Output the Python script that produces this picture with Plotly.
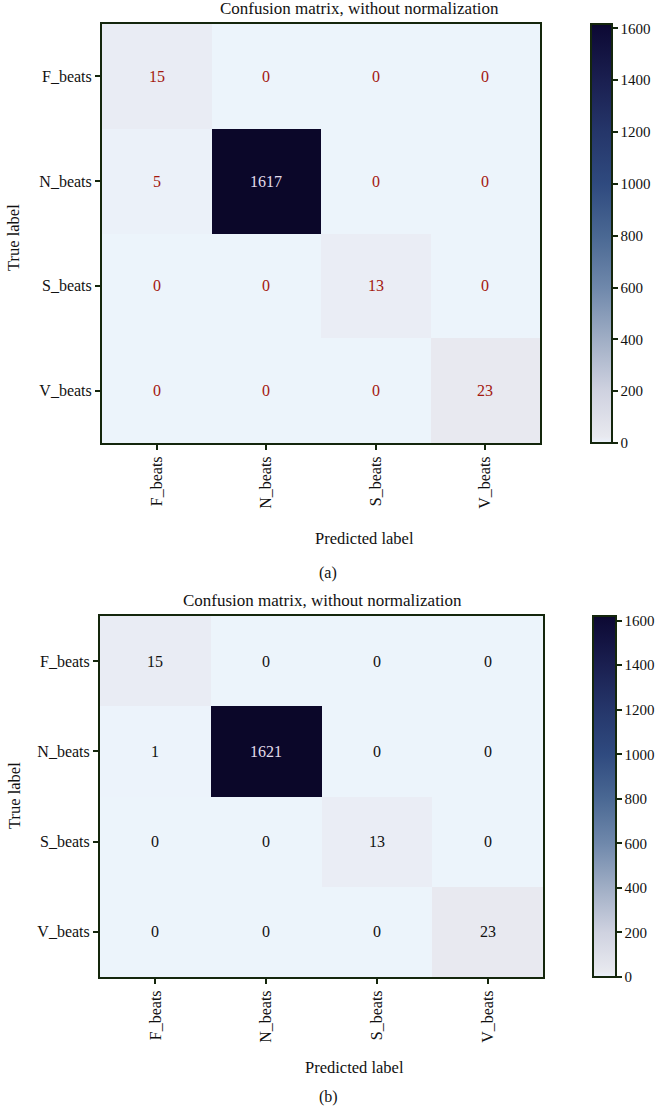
import plotly.graph_objects as go

# ---- data ----
classes = ["F_beats", "N_beats", "S_beats", "V_beats"]
cm_a = [[15, 0, 0, 0],
        [5, 1617, 0, 0],
        [0, 0, 13, 0],
        [0, 0, 0, 23]]
cm_b = [[15, 0, 0, 0],
        [1, 1621, 0, 0],
        [0, 0, 13, 0],
        [0, 0, 0, 23]]
cbar_ticks = [0, 200, 400, 600, 800, 1000, 1200, 1400, 1600]
title_text = "Confusion matrix, without normalization"
panel_labels = ["(a)", "(b)"]

W, H = 661, 1107
FONT = "Liberation Serif, Times New Roman, serif"
LINE = "#14260c"

colorscale = [[0.0, "#ECF4FB"], [0.006, "#EAEEF7"], [0.015, "#E8E9EF"],
              [0.124, "#CFD2E0"], [0.247, "#A0AEC5"], [0.371, "#6F88AB"],
              [0.495, "#4A6893"], [0.618, "#2F4A7F"], [0.742, "#25366A"],
              [0.866, "#1A1F50"], [0.99, "#0D0A35"], [1.0, "#0B0729"]]

def px_x(x):
    return x / W

def px_y(y):
    return 1 - y / H

panels = [
    dict(z=cm_a, frame=(102, 540, 24, 443), cb=(591, 21), txt="#A3180F",
         title=(359, 8), xlab=(365, 539), tlab=(14, 238), plab=(328, 573)),
    dict(z=cm_b, frame=(100, 543, 616, 977), cb=(593, 23), txt="#111111",
         title=(322, 600), xlab=(354, 1067), tlab=(14, 796), plab=(328, 1097)),
]

fig = go.Figure()
annotations = []
for i, p in enumerate(panels):
    k = "" if i == 0 else str(i + 1)
    x0, x1, y0, y1 = p["frame"]
    zmax = max(max(r) for r in p["z"])
    fig.add_trace(go.Heatmap(
        z=p["z"], x=classes, y=classes, xaxis="x" + k, yaxis="y" + k,
        colorscale=colorscale, zmin=0, zmax=zmax, hoverinfo="z",
        colorbar=dict(
            x=px_x(p["cb"][0]), xanchor="left", xpad=0, ypad=0,
            y=px_y(y0), yanchor="top", len=y1 - y0, lenmode="pixels",
            thickness=p["cb"][1], thicknessmode="pixels",
            outlinewidth=2, outlinecolor=LINE,
            tickvals=cbar_ticks, ticks="outside", ticklen=5, tickwidth=2,
            tickcolor=LINE, tickfont=dict(family=FONT, size=15, color="#111"),
        ),
    ))
    axis_common = dict(showgrid=False, zeroline=False, showline=True, mirror=True,
                       linecolor=LINE, linewidth=2, ticks="outside", ticklen=5,
                       tickwidth=2, tickcolor=LINE,
                       tickfont=dict(family=FONT, size=16, color="#111"))
    fig.update_layout(**{
        "xaxis" + k: dict(domain=[px_x(x0), px_x(x1)], anchor="y" + k,
                          tickangle=-90, **axis_common),
        "yaxis" + k: dict(domain=[px_y(y1), px_y(y0)], anchor="x" + k,
                          autorange="reversed", **axis_common),
    })
    for r, row in enumerate(p["z"]):
        for c, v in enumerate(row):
            col = "#E2DEEC" if v > zmax / 2 else p["txt"]
            annotations.append(dict(x=classes[c], y=classes[r], xref="x" + k, yref="y" + k,
                                    text=str(v), showarrow=False,
                                    font=dict(family=FONT, size=16, color=col)))
    annotations += [
        dict(x=px_x(p["title"][0]), y=px_y(p["title"][1]), xref="paper", yref="paper",
             text=title_text, showarrow=False, xanchor="center", yanchor="middle",
             font=dict(family=FONT, size=17, color="#111")),
        dict(x=px_x(p["xlab"][0]), y=px_y(p["xlab"][1]), xref="paper", yref="paper",
             text="Predicted label", showarrow=False, xanchor="center", yanchor="middle",
             font=dict(family=FONT, size=16.5, color="#111")),
        dict(x=px_x(p["tlab"][0]), y=px_y(p["tlab"][1]), xref="paper", yref="paper",
             text="True label", showarrow=False, xanchor="center", yanchor="middle",
             textangle=-90, font=dict(family=FONT, size=16.5, color="#111")),
        dict(x=px_x(p["plab"][0]), y=px_y(p["plab"][1]), xref="paper", yref="paper",
             text=panel_labels[i], showarrow=False, xanchor="center", yanchor="middle",
             font=dict(family=FONT, size=16, color="#111")),
    ]

fig.update_layout(width=W, height=H, margin=dict(l=0, r=0, t=0, b=0),
                  paper_bgcolor="white", plot_bgcolor="white",
                  annotations=annotations, showlegend=False)
# remove the default 8px page margin so the figure fills the window exactly
fig.write_html("out.html", config={"displayModeBar": False},
               post_script="document.body.style.margin='0px';")
